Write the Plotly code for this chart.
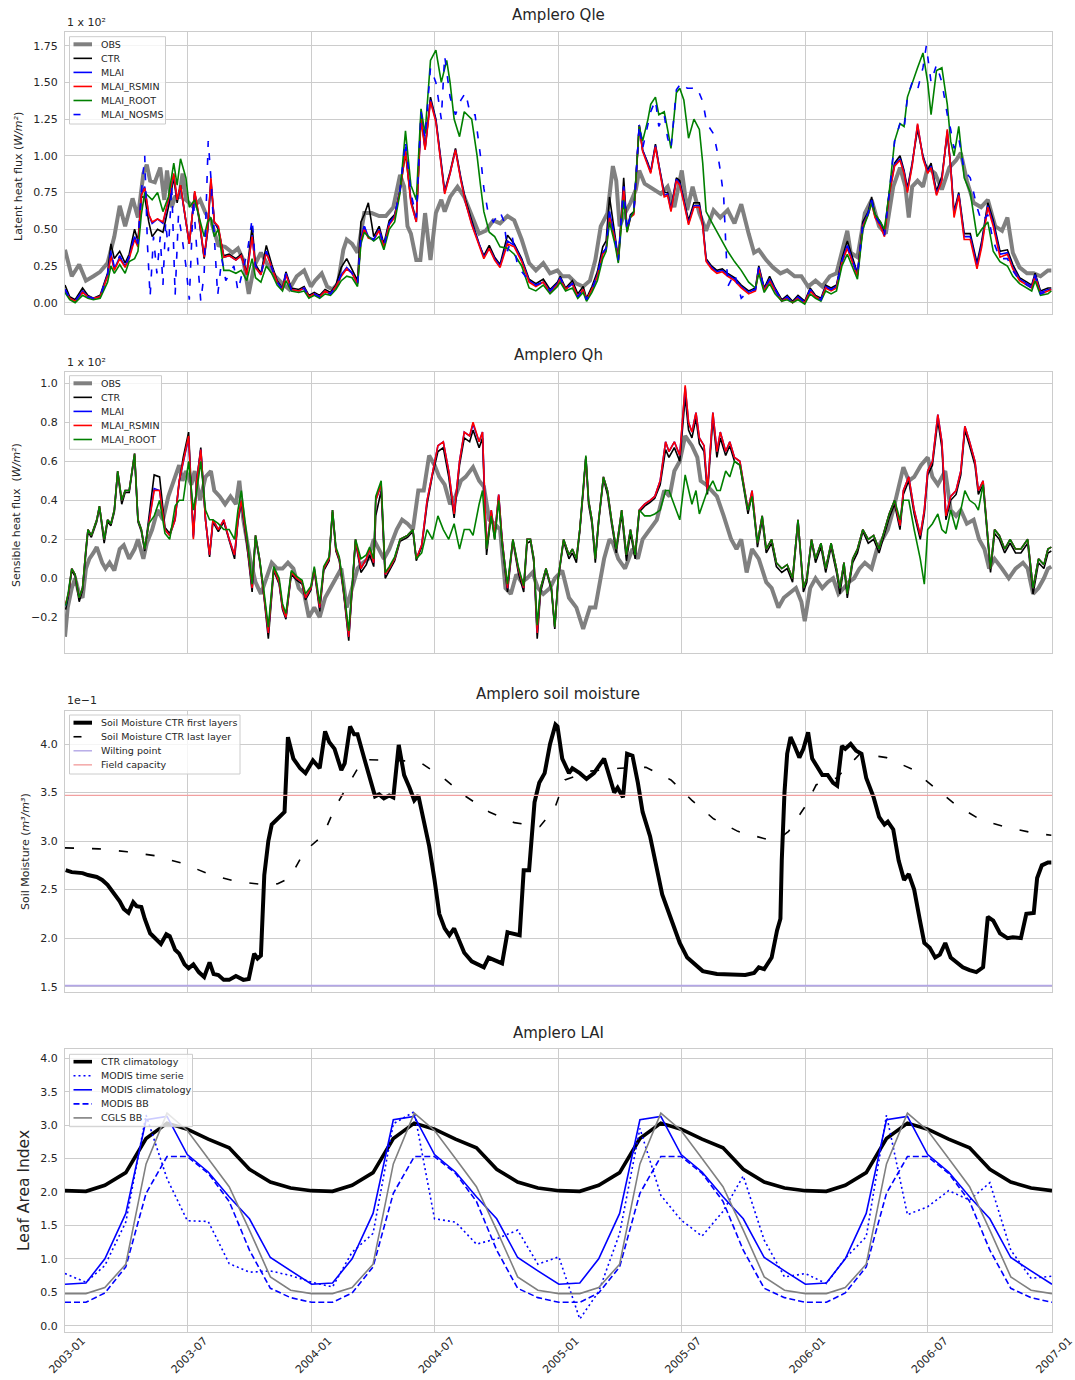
import pandas as pd
import plotly.graph_objects as go

# ---------------------------------------------------------------------------
# Amplero site: fluxes, soil moisture and LAI, 2003-2006
# Flux series are (day since 2003-01-01, W/m2); soil moisture in m3/m3.
# ---------------------------------------------------------------------------
START = "2003-01-01"
END = "2007-01-01"

QLE_OBS = [(0,36),(10,18),(21,26),(31,15),(42,18),(52,21),(63,27),(73,45),(81,66),(89,52),(100,71),(108,58),(116,88),(121,94),(126,83),(133,82),(141,92),(147,70),(151,90),(158,65),(163,72),(169,72),(174,88),(179,70),(190,65),(200,70),(208,61),(216,56),(227,39),(237,38),(248,34),(256,37),(264,29),(272,6),(280,25),(290,34),(301,25),(311,18),(322,13),(332,9),(343,18),(354,22),(364,11),(370,15),(380,20),(388,11),(396,9),(404,13),(412,36),(417,43),(425,40),(433,34),(443,61),(454,61),(465,59),(475,59),(486,65),(496,87),(502,79),(507,52),(512,47),(520,29),(526,29),(533,61),(541,29),(549,61),(557,70),(562,62),(570,72),(581,79),(591,72),(602,59),(613,47),(623,49),(634,56),(644,54),(655,59),(665,56),(676,43),(687,27),(697,22),(708,27),(718,20),(729,22),(736,18),(746,18),(757,13),(767,11),(777,15),(785,29),(793,52),(803,61),(811,93),(816,83),(821,52),(829,61),(837,68),(845,77),(850,90),(858,81),(871,77),(882,74),(892,79),(902,65),(913,90),(921,63),(929,79),(939,61),(949,49),(960,63),(970,58),(981,63),(991,54),(1001,67),(1012,47),(1020,34),(1027,36),(1038,29),(1048,24),(1059,20),(1069,22),(1080,18),(1090,18),(1100,11),(1111,15),(1121,11),(1132,18),(1142,20),(1153,40),(1158,49),(1163,34),(1173,31),(1184,61),(1194,70),(1205,52),(1215,47),(1226,79),(1236,92),(1244,79),(1249,58),(1254,79),(1262,83),(1270,79),(1277,92),(1288,88),(1298,77),(1309,92),(1319,97),(1326,102),(1335,83),(1345,68),(1356,65),(1366,70),(1377,52),(1387,49),(1395,58),(1403,34),(1413,24),(1424,20),(1434,20),(1444,18),(1455,22),(1460,22)]

QLE_CTR = [(0,12),(7,4),(15,2),(26,10),(34,5),(42,3),(52,5),(63,20),(68,40),(73,30),(81,35),(89,27),(95,33),(103,50),(108,42),(113,72),(118,72),(124,55),(129,45),(137,50),(145,48),(153,65),(161,85),(166,68),(171,80),(179,55),(184,40),(192,75),(198,58),(206,30),(211,48),(216,82),(221,55),(227,50),(235,32),(243,33),(253,30),(261,33),(269,20),(277,52),(282,26),(290,20),(298,39),(306,26),(314,15),(322,10),(327,21),(335,10),(346,9),(354,11),(361,5),(369,7),(377,5),(385,9),(393,7),(401,12),(409,24),(417,30),(425,22),(433,15),(438,55),(443,60),(449,68),(457,45),(465,52),(472,40),(480,56),(488,60),(496,77),(504,102),(512,70),(520,56),(527,128),(533,105),(541,140),(549,125),(557,95),(562,76),(570,89),(578,105),(586,85),(593,70),(602,56),(613,40),(620,32),(628,39),(636,31),(644,26),(655,46),(665,40),(676,30),(687,16),(697,13),(708,16),(718,9),(729,14),(733,18),(741,10),(751,15),(759,6),(767,11),(772,3),(780,11),(788,21),(796,38),(801,42),(806,72),(814,45),(819,30),(824,62),(827,85),(832,50),(837,60),(842,62),(850,121),(855,104),(863,95),(867,89),(874,108),(879,94),(887,75),(892,75),(897,64),(905,85),(910,83),(916,70),(923,56),(931,68),(939,68),(944,54),(949,30),(957,25),(965,22),(973,23),(981,20),(991,17),(1001,12),(1012,8),(1022,10),(1027,25),(1035,10),(1043,18),(1051,10),(1061,2),(1069,5),(1077,1),(1085,5),(1095,1),(1103,10),(1111,5),(1119,3),(1126,12),(1134,10),(1142,12),(1150,30),(1158,42),(1166,30),(1173,20),(1181,55),(1189,62),(1194,72),(1199,60),(1207,55),(1213,48),(1220,75),(1228,95),(1236,100),(1242,90),(1247,78),(1254,95),(1262,118),(1270,100),(1277,90),(1282,95),(1290,76),(1298,86),(1306,115),(1311,93),(1316,62),(1323,75),(1331,47),(1340,47),(1350,27),(1357,42),(1366,68),(1374,56),(1384,35),(1395,36),(1403,26),(1413,17),(1424,14),(1431,12),(1436,20),(1444,8),(1455,10),(1460,10)]

QLE_MLAI = [(0,9),(7,3),(15,1),(26,8),(34,4),(42,3),(52,4),(63,19),(68,34),(73,23),(81,31),(89,25),(95,31),(103,45),(108,39),(113,74),(118,79),(124,60),(129,54),(137,57),(145,54),(153,69),(161,87),(166,70),(171,79),(179,54),(184,40),(192,75),(198,59),(206,31),(211,49),(216,84),(221,55),(227,51),(235,31),(243,32),(253,29),(261,32),(269,19),(277,46),(282,24),(290,19),(298,35),(306,24),(314,14),(322,9),(327,20),(335,9),(346,8),(354,10),(361,4),(369,6),(377,4),(385,8),(393,6),(401,11),(409,19),(417,24),(425,20),(433,13),(438,44),(443,52),(449,45),(457,43),(465,50),(472,38),(480,54),(488,59),(496,77),(504,106),(512,69),(520,55),(527,127),(533,105),(541,138),(549,124),(557,94),(562,75),(570,88),(578,104),(586,84),(593,68),(602,54),(613,39),(620,31),(628,37),(636,30),(644,25),(655,42),(665,39),(676,29),(687,15),(697,12),(708,14),(718,8),(729,13),(733,17),(741,9),(751,13),(759,4),(767,9),(772,2),(780,9),(788,19),(796,34),(801,37),(806,62),(814,44),(819,29),(824,59),(827,79),(832,49),(837,59),(842,61),(850,121),(855,104),(863,94),(867,89),(874,107),(879,93),(887,73),(892,74),(897,63),(905,84),(910,81),(916,69),(923,54),(931,66),(939,66),(944,53),(949,29),(957,24),(965,21),(973,22),(981,19),(991,16),(1001,11),(1012,7),(1022,9),(1027,24),(1035,9),(1043,16),(1051,9),(1061,1),(1069,4),(1077,0),(1085,4),(1095,0),(1103,9),(1111,4),(1119,2),(1126,11),(1134,9),(1142,11),(1150,28),(1158,39),(1166,28),(1173,19),(1181,53),(1189,61),(1194,70),(1199,59),(1207,53),(1213,46),(1220,74),(1228,94),(1236,98),(1242,89),(1247,76),(1254,94),(1262,121),(1270,99),(1277,89),(1282,93),(1290,74),(1298,84),(1306,117),(1311,93),(1316,60),(1323,74),(1331,45),(1340,45),(1350,25),(1357,40),(1366,66),(1374,54),(1384,33),(1395,34),(1403,24),(1413,16),(1424,13),(1431,11),(1436,19),(1444,7),(1455,9),(1460,9)]

QLE_RSMIN = [(0,8),(7,3),(15,1),(26,7),(34,4),(42,3),(52,4),(63,18),(68,32),(73,22),(81,30),(89,24),(95,30),(103,43),(108,38),(113,73),(118,78),(124,60),(129,55),(137,57),(145,55),(153,70),(161,88),(166,70),(171,80),(179,55),(184,40),(192,76),(198,60),(206,31),(211,50),(216,85),(221,55),(227,52),(235,31),(243,32),(253,29),(261,32),(269,19),(277,45),(282,24),(290,19),(298,34),(306,24),(314,14),(322,9),(327,19),(335,9),(346,8),(354,10),(361,4),(369,6),(377,4),(385,8),(393,6),(401,11),(409,18),(417,23),(425,20),(433,13),(438,42),(443,50),(449,44),(457,43),(465,49),(472,38),(480,53),(488,58),(496,76),(504,103),(512,68),(520,55),(527,125),(533,104),(541,137),(549,123),(557,93),(562,74),(570,88),(578,104),(586,83),(593,68),(602,53),(613,38),(620,30),(628,37),(636,29),(644,24),(655,40),(665,38),(676,28),(687,14),(697,11),(708,14),(718,7),(729,12),(733,16),(741,9),(751,13),(759,4),(767,9),(772,2),(780,9),(788,18),(796,33),(801,36),(806,58),(814,43),(819,28),(824,58),(827,78),(832,48),(837,58),(842,60),(850,120),(855,103),(863,93),(867,88),(874,106),(879,92),(887,72),(892,73),(897,62),(905,83),(910,80),(916,68),(923,53),(931,65),(939,65),(944,52),(949,28),(957,23),(965,20),(973,21),(981,18),(991,15),(1001,10),(1012,6),(1022,8),(1027,23),(1035,8),(1043,15),(1051,8),(1061,1),(1069,3),(1077,0),(1085,3),(1095,0),(1103,8),(1111,4),(1119,2),(1126,10),(1134,8),(1142,10),(1150,27),(1158,37),(1166,27),(1173,18),(1181,52),(1189,60),(1194,68),(1199,58),(1207,52),(1213,45),(1220,73),(1228,93),(1236,97),(1242,88),(1247,75),(1254,93),(1262,122),(1270,98),(1277,88),(1282,92),(1290,73),(1298,83),(1306,118),(1311,92),(1316,58),(1323,73),(1331,43),(1340,43),(1350,23),(1357,38),(1366,65),(1374,52),(1384,31),(1395,33),(1403,23),(1413,15),(1424,12),(1431,10),(1436,18),(1444,6),(1455,8),(1460,9)]

QLE_ROOT = [(0,7),(7,2),(15,0),(26,5),(34,3),(42,2),(52,3),(63,14),(68,25),(73,20),(81,26),(89,20),(95,28),(103,30),(108,35),(113,60),(118,75),(124,72),(129,70),(137,75),(145,62),(153,72),(161,95),(166,80),(171,98),(179,85),(184,65),(192,70),(198,60),(206,45),(211,55),(216,58),(221,45),(227,50),(235,22),(243,22),(253,20),(261,22),(269,15),(277,30),(282,17),(290,14),(298,25),(306,20),(314,12),(322,8),(327,15),(335,8),(346,7),(354,8),(361,3),(369,5),(377,3),(385,6),(393,5),(401,9),(409,15),(417,18),(425,17),(433,11),(438,40),(443,48),(449,45),(457,42),(465,45),(472,36),(480,50),(488,55),(496,75),(504,117),(512,80),(520,70),(527,132),(533,115),(541,165),(549,172),(557,150),(565,165),(570,150),(576,125),(584,113),(591,130),(602,125),(610,100),(615,80),(620,62),(628,48),(636,45),(644,38),(655,37),(665,33),(676,25),(687,10),(697,8),(708,12),(718,6),(729,11),(733,14),(741,8),(751,10),(759,3),(767,7),(772,1),(780,7),(788,15),(796,30),(801,35),(806,55),(814,40),(819,27),(824,55),(827,70),(832,48),(837,58),(842,62),(850,120),(855,110),(863,125),(867,135),(874,140),(879,128),(887,130),(892,118),(897,105),(905,143),(910,146),(916,138),(923,112),(931,125),(939,118),(944,95),(949,62),(957,55),(965,48),(973,42),(981,35),(991,28),(1001,22),(1012,14),(1022,10),(1027,20),(1035,7),(1043,13),(1051,6),(1061,1),(1069,2),(1077,0),(1085,2),(1095,-1),(1103,6),(1111,3),(1119,1),(1126,8),(1134,6),(1142,8),(1150,25),(1158,33),(1166,24),(1173,16),(1181,50),(1189,60),(1194,68),(1199,60),(1207,55),(1213,50),(1220,75),(1228,110),(1236,122),(1242,120),(1247,140),(1254,150),(1262,160),(1270,170),(1277,150),(1282,128),(1290,158),(1298,160),(1306,135),(1311,110),(1316,100),(1323,120),(1331,85),(1340,75),(1350,45),(1357,50),(1366,55),(1374,35),(1384,28),(1395,25),(1403,18),(1413,13),(1424,10),(1431,8),(1436,15),(1444,5),(1455,6),(1460,8)]

QLE_NOSMS = [(0,9),(7,3),(15,1),(26,8),(34,4),(42,3),(52,4),(63,19),(68,36),(73,24),(81,32),(89,25),(95,31),(103,46),(108,40),(113,75),(118,100),(122,40),(126,4),(131,45),(136,20),(141,45),(145,12),(149,55),(153,35),(158,80),(163,5),(168,60),(173,45),(179,25),(184,2),(190,70),(196,30),(201,1),(206,20),(212,110),(216,85),(221,40),(226,5),(232,30),(238,15),(244,20),(250,25),(256,8),(262,20),(270,35),(277,57),(282,25),(290,19),(298,35),(306,24),(314,14),(322,9),(327,20),(335,9),(346,8),(354,10),(361,4),(369,6),(377,4),(385,8),(393,6),(401,11),(409,19),(417,24),(425,20),(433,13),(438,44),(443,52),(449,45),(457,43),(465,50),(472,38),(480,54),(488,59),(496,77),(504,110),(512,75),(520,58),(527,130),(533,112),(541,160),(549,150),(557,125),(562,168),(570,140),(578,128),(586,138),(593,143),(600,128),(607,128),(615,100),(620,78),(626,62),(634,55),(644,62),(650,55),(655,35),(662,45),(670,25),(678,20),(687,15),(697,12),(708,14),(718,8),(729,13),(733,17),(741,9),(751,13),(759,4),(767,9),(772,2),(780,9),(788,19),(796,34),(801,37),(806,62),(814,44),(819,29),(824,59),(827,79),(832,49),(837,59),(842,61),(850,121),(855,105),(863,122),(867,130),(874,138),(879,120),(887,128),(892,112),(897,105),(905,145),(913,150),(921,146),(928,146),(935,147),(944,137),(950,122),(960,115),(965,104),(970,90),(975,72),(981,11),(991,20),(1001,3),(1006,5),(1012,8),(1022,9),(1027,24),(1035,9),(1043,16),(1051,9),(1061,1),(1069,4),(1077,0),(1085,4),(1095,0),(1103,9),(1111,4),(1119,2),(1126,11),(1134,9),(1142,11),(1150,28),(1158,39),(1166,28),(1173,19),(1181,53),(1189,61),(1194,70),(1199,59),(1207,53),(1213,46),(1220,74),(1228,110),(1236,122),(1242,118),(1247,140),(1254,150),(1262,145),(1270,160),(1275,175),(1282,150),(1290,162),(1298,150),(1306,128),(1311,118),(1316,105),(1323,112),(1331,90),(1340,85),(1350,65),(1357,55),(1366,60),(1374,42),(1384,30),(1395,30),(1403,22),(1413,15),(1424,12),(1431,10),(1436,18),(1444,6),(1455,8),(1460,8)]

QH_OBS = [(0,-30),(4,-15),(10,-5),(15,0),(21,-8),(26,-10),(31,5),(36,10),(42,13),(47,16),(55,8),(60,5),(66,8),(73,4),(81,15),(87,17),(95,10),(103,15),(108,20),(116,10),(121,18),(129,25),(137,35),(145,30),(153,42),(161,50),(169,58),(174,50),(179,55),(187,48),(192,55),(200,40),(208,52),(216,55),(221,45),(229,42),(237,38),(245,42),(253,38),(258,50),(264,30),(269,20),(274,10),(282,-2),(290,-8),(298,0),(306,8),(314,5),(322,5),(330,8),(338,5),(346,-5),(354,-8),(361,-20),(369,-15),(377,-20),(385,-10),(393,-5),(401,0),(409,5),(417,-15),(425,-5),(433,5),(441,8),(449,10),(457,20),(465,15),(472,10),(480,15),(491,25),(499,30),(507,28),(515,25),(523,45),(531,45),(539,63),(547,58),(554,52),(562,48),(570,38),(578,42),(586,50),(593,52),(604,57),(613,50),(620,47),(628,30),(636,28),(644,25),(652,-5),(660,-8),(668,2),(676,-2),(684,0),(692,3),(700,-5),(708,-8),(718,-5),(725,0),(736,4),(746,-10),(757,-15),(767,-26),(777,-15),(785,-15),(790,-5),(798,10),(806,20),(811,18),(819,10),(829,5),(840,15),(848,10),(855,20),(866,25),(876,30),(887,45),(895,42),(902,55),(910,60),(918,73),(928,68),(936,62),(941,50),(949,48),(957,45),(965,42),(975,32),(986,20),(994,15),(1001,20),(1009,3),(1017,15),(1027,10),(1038,-2),(1046,-5),(1056,-15),(1064,-10),(1074,-7),(1082,-5),(1090,-12),(1095,-22),(1103,-5),(1111,0),(1121,-5),(1129,-2),(1137,0),(1145,-8),(1153,-5),(1160,-2),(1168,0),(1176,5),(1184,8),(1194,5),(1202,15),(1210,20),(1218,25),(1226,35),(1234,47),(1241,57),(1249,50),(1257,52),(1267,58),(1277,62),(1284,52),(1292,48),(1303,55),(1311,35),(1319,32),(1326,35),(1335,28),(1345,30),(1353,20),(1361,15),(1368,5),(1376,10),(1387,5),(1397,0),(1407,5),(1418,8),(1425,5),(1433,-8),(1441,-5),(1449,0),(1455,5),(1460,6)]

QH_CTR = [(1,-16),(5,-9),(10,4),(15,1),(21,-12),(26,-6),(31,13),(34,24),(39,21),(47,29),(51,36),(58,18),(63,29),(68,27),(73,34),(78,54),(84,38),(89,44),(95,44),(103,63),(108,29),(113,24),(118,14),(124,30),(132,53),(140,52),(148,26),(155,23),(163,31),(169,49),(175,62),(183,75),(190,22),(195,50),(201,67),(208,30),(214,11),(219,29),(227,24),(235,29),(243,19),(251,10),(256,29),(261,39),(269,18),(277,-7),(282,21),(288,9),(295,-11),(301,-31),(309,4),(317,-3),(322,-16),(327,-21),(335,2),(343,-1),(351,-3),(356,-11),(364,-6),(369,4),(377,-17),(383,4),(391,9),(396,34),(401,14),(406,9),(412,-6),(420,-32),(425,-6),(430,19),(438,3),(446,7),(451,12),(457,6),(460,32),(468,45),(474,0),(480,4),(488,9),(496,19),(507,21),(515,24),(520,9),(528,16),(536,38),(544,53),(552,65),(560,67),(568,52),(576,31),(584,58),(591,72),(599,70),(604,76),(613,67),(618,72),(624,12),(631,33),(636,20),(642,42),(647,18),(655,-7),(663,19),(671,3),(679,-7),(684,18),(689,19),(694,8),(699,-31),(704,-7),(712,4),(720,-6),(725,-26),(730,-1),(738,19),(746,10),(751,13),(757,8),(762,24),(767,44),(771,62),(775,38),(780,28),(785,8),(790,29),(797,51),(803,43),(809,28),(816,13),(824,33),(831,9),(837,23),(844,10),(850,34),(858,37),(866,39),(873,41),(881,48),(889,66),(894,62),(902,67),(910,60),(918,93),(923,76),(928,72),(934,82),(939,69),(946,65),(951,43),(959,82),(965,62),(970,72),(978,63),(984,68),(991,60),(999,58),(1006,43),(1011,33),(1017,43),(1025,16),(1032,30),(1038,13),(1046,18),(1053,6),(1061,3),(1069,5),(1077,-2),(1085,29),(1093,-7),(1098,-2),(1105,19),(1111,8),(1119,16),(1126,3),(1134,16),(1142,3),(1147,-8),(1153,6),(1158,-10),(1166,8),(1173,13),(1181,24),(1189,18),(1197,20),(1205,13),(1213,23),(1220,31),(1228,38),(1236,25),(1241,43),(1249,50),(1257,33),(1266,20),(1272,33),(1277,53),(1284,58),(1292,81),(1298,67),(1304,30),(1311,40),(1319,43),(1326,53),(1332,76),(1339,68),(1347,58),(1352,43),(1359,48),(1365,23),(1370,3),(1376,23),(1383,20),(1391,13),(1399,18),(1407,13),(1415,13),(1425,18),(1433,-8),(1441,8),(1449,5),(1455,13),(1460,14)]

QH_MLAI = [(1,-14),(5,-8),(10,5),(15,2),(21,-10),(26,-5),(31,15),(34,25),(39,22),(47,30),(51,37),(58,20),(63,30),(68,28),(73,35),(78,55),(84,40),(89,45),(95,45),(103,64),(108,30),(113,25),(118,15),(124,28),(132,46),(140,45),(148,25),(155,22),(163,30),(169,50),(175,60),(183,72),(190,21),(195,50),(201,66),(208,30),(214,12),(219,30),(227,25),(235,30),(243,20),(251,12),(256,30),(261,40),(269,20),(277,-5),(282,22),(288,10),(295,-10),(301,-28),(309,5),(317,-2),(322,-15),(327,-20),(335,3),(343,0),(351,-2),(356,-10),(364,-5),(369,5),(377,-15),(383,5),(391,10),(396,35),(401,15),(406,10),(412,-5),(420,-30),(425,-5),(430,20),(438,5),(446,10),(451,15),(457,8),(460,40),(468,48),(474,2),(480,5),(488,10),(496,20),(507,22),(515,25),(520,10),(528,17),(536,40),(544,55),(552,68),(560,70),(568,55),(576,33),(584,60),(591,75),(599,73),(604,79),(613,70),(618,75),(624,15),(631,35),(636,22),(642,43),(647,20),(655,-5),(663,20),(671,5),(679,-5),(684,20),(689,20),(694,10),(699,-28),(704,-5),(712,5),(720,-5),(725,-25),(730,0),(738,20),(746,12),(751,15),(757,10),(762,25),(767,45),(771,62),(775,40),(780,30),(785,10),(790,30),(797,52),(803,45),(809,30),(816,15),(824,35),(831,12),(837,25),(844,12),(850,35),(858,38),(866,40),(873,42),(881,50),(889,70),(894,65),(902,70),(910,63),(918,98),(923,80),(928,75),(934,85),(939,72),(946,68),(951,45),(959,85),(965,65),(970,75),(978,65),(984,70),(991,62),(999,60),(1006,45),(1011,35),(1017,45),(1025,18),(1032,32),(1038,15),(1046,20),(1053,8),(1061,5),(1069,7),(1077,0),(1085,30),(1093,-5),(1098,0),(1105,20),(1111,10),(1119,18),(1126,5),(1134,18),(1142,5),(1147,-5),(1153,8),(1158,-8),(1166,10),(1173,15),(1181,25),(1189,20),(1197,22),(1205,15),(1213,25),(1220,33),(1228,40),(1236,27),(1241,45),(1249,52),(1257,35),(1266,22),(1272,35),(1277,55),(1284,60),(1292,84),(1298,70),(1304,32),(1311,42),(1319,45),(1326,55),(1332,78),(1339,70),(1347,60),(1352,45),(1359,50),(1365,25),(1370,5),(1376,25),(1383,22),(1391,15),(1399,20),(1407,15),(1415,15),(1425,20),(1433,-5),(1441,10),(1449,7),(1455,15),(1460,16)]

QH_RSMIN = [(1,-13),(5,-8),(10,5),(15,2),(21,-10),(26,-5),(31,15),(34,25),(39,22),(47,30),(51,37),(58,20),(63,30),(68,28),(73,35),(78,55),(84,40),(89,45),(95,45),(103,64),(108,30),(113,25),(118,15),(124,28),(132,45),(140,45),(148,25),(155,22),(163,30),(169,50),(175,60),(183,73),(190,20),(195,50),(201,66),(208,30),(214,12),(219,30),(227,25),(235,30),(243,20),(251,12),(256,30),(261,40),(269,20),(277,-5),(282,22),(288,10),(295,-10),(301,-28),(309,5),(317,-2),(322,-15),(327,-20),(335,3),(343,0),(351,-2),(356,-10),(364,-5),(369,5),(377,-15),(383,5),(391,10),(396,35),(401,15),(406,10),(412,-5),(420,-30),(425,-5),(430,20),(438,5),(446,10),(451,15),(457,8),(460,40),(468,48),(474,2),(480,5),(488,10),(496,20),(507,22),(515,25),(520,10),(528,17),(536,40),(544,55),(552,68),(560,70),(568,55),(576,33),(584,60),(591,75),(599,73),(604,80),(613,70),(618,75),(624,15),(631,35),(636,22),(642,43),(647,20),(655,-5),(663,20),(671,5),(679,-5),(684,20),(689,20),(694,10),(699,-28),(704,-5),(712,5),(720,-5),(725,-25),(730,0),(738,20),(746,12),(751,15),(757,10),(762,25),(767,45),(771,62),(775,40),(780,30),(785,10),(790,30),(797,52),(803,45),(809,30),(816,15),(824,35),(831,12),(837,25),(844,12),(850,35),(858,38),(866,40),(873,42),(881,50),(889,70),(894,65),(902,70),(910,63),(918,99),(923,80),(928,75),(934,85),(939,72),(946,68),(951,45),(959,85),(965,65),(970,75),(978,65),(984,70),(991,62),(999,60),(1006,45),(1011,35),(1017,45),(1025,18),(1032,32),(1038,15),(1046,20),(1053,8),(1061,5),(1069,7),(1077,0),(1085,30),(1093,-5),(1098,0),(1105,20),(1111,10),(1119,18),(1126,5),(1134,18),(1142,5),(1147,-5),(1153,8),(1158,-8),(1166,10),(1173,15),(1181,25),(1189,20),(1197,22),(1205,15),(1213,25),(1220,33),(1228,40),(1236,27),(1241,45),(1249,52),(1257,35),(1266,22),(1272,35),(1277,55),(1284,60),(1292,84),(1298,70),(1304,32),(1311,42),(1319,45),(1326,55),(1332,78),(1339,70),(1347,60),(1352,45),(1359,50),(1365,25),(1370,5),(1376,25),(1383,22),(1391,15),(1399,20),(1407,15),(1415,15),(1425,20),(1433,-5),(1441,10),(1449,7),(1455,15),(1460,16)]

QH_ROOT = [(1,-14),(5,-7),(10,5),(15,2),(21,-10),(26,-5),(31,15),(34,25),(39,22),(47,30),(51,37),(58,20),(63,30),(68,28),(73,35),(78,55),(84,40),(89,45),(95,45),(103,64),(108,30),(113,25),(118,15),(124,28),(132,32),(140,40),(148,23),(155,20),(163,37),(169,40),(175,40),(183,60),(190,35),(195,45),(201,60),(208,35),(214,30),(219,30),(227,28),(235,25),(243,25),(251,20),(256,35),(261,45),(269,22),(277,-3),(282,22),(288,10),(295,-8),(301,-25),(309,6),(317,0),(322,-13),(327,-18),(335,4),(343,1),(351,-1),(356,-8),(364,-4),(369,6),(377,-13),(383,6),(391,11),(396,35),(401,16),(406,11),(412,-4),(420,-27),(425,-4),(430,20),(438,10),(446,12),(451,16),(457,10),(460,42),(468,50),(474,3),(480,6),(488,11),(496,20),(507,22),(515,25),(520,10),(528,13),(536,25),(544,20),(552,32),(560,25),(568,20),(576,28),(584,15),(591,25),(599,25),(604,22),(613,38),(618,45),(624,15),(631,32),(636,20),(642,40),(647,18),(655,-3),(663,20),(671,6),(679,-4),(684,20),(689,20),(694,10),(699,-24),(704,-5),(712,5),(720,-5),(725,-25),(730,0),(738,20),(746,12),(751,15),(757,10),(762,25),(767,45),(771,63),(775,40),(780,30),(785,10),(790,30),(797,52),(803,45),(809,30),(816,15),(824,35),(831,12),(837,25),(844,12),(850,35),(858,32),(866,32),(873,33),(881,35),(889,45),(894,45),(902,38),(910,30),(918,53),(923,45),(928,38),(934,45),(939,33),(946,40),(951,45),(959,50),(965,45),(970,45),(978,55),(984,52),(991,60),(999,58),(1006,45),(1011,35),(1017,42),(1025,18),(1032,32),(1038,15),(1046,20),(1053,8),(1061,5),(1069,7),(1077,0),(1085,30),(1093,-5),(1098,0),(1105,20),(1111,10),(1119,18),(1126,5),(1134,18),(1142,5),(1147,-5),(1153,8),(1158,-8),(1166,10),(1173,15),(1181,25),(1189,20),(1197,22),(1205,15),(1213,25),(1220,33),(1228,40),(1236,30),(1241,40),(1249,40),(1257,25),(1266,10),(1272,-3),(1277,25),(1284,28),(1292,33),(1298,25),(1304,23),(1311,35),(1319,25),(1326,35),(1332,45),(1339,40),(1347,38),(1352,35),(1359,48),(1365,25),(1370,5),(1376,25),(1383,22),(1391,15),(1399,20),(1407,15),(1415,15),(1425,20),(1433,-5),(1441,10),(1449,7),(1455,15),(1460,16)]

SM_TOP = [(1,.270),(10,.268),(26,.267),(34,.265),(47,.263),(55,.260),(63,.255),(73,.245),(81,.238),(87,.230),(94,.226),(101,.237),(106,.233),(113,.232),(118,.220),(126,.205),(134,.199),(142,.194),(150,.204),(155,.202),(163,.188),(169,.184),(177,.173),(183,.169),(190,.173),(198,.165),(206,.160),(214,.175),(220,.163),(227,.162),(235,.157),(243,.157),(253,.161),(264,.157),(272,.158),(280,.184),(285,.179),(290,.182),(295,.265),(301,.300),(306,.317),(317,.325),(325,.330),(330,.407),(338,.385),(348,.375),(356,.370),(367,.383),(377,.375),(385,.413),(391,.402),(399,.395),(409,.373),(414,.380),(422,.418),(428,.410),(433,.410),(443,.385),(451,.365),(459,.346),(465,.348),(472,.344),(480,.347),(486,.345),(494,.399),(502,.368),(510,.355),(517,.342),(523,.347),(531,.320),(539,.295),(547,.260),(554,.225),(562,.210),(569,.203),(576,.210),(584,.197),(591,.185),(602,.176),(613,.172),(620,.170),(627,.180),(636,.177),(647,.174),(655,.206),(665,.204),(673,.203),(679,.270),(687,.270),(695,.340),(702,.360),(710,.370),(718,.400),(726,.420),(729,.418),(736,.385),(746,.370),(751,.375),(762,.370),(772,.364),(783,.370),(798,.385),(806,.365),(813,.350),(818,.355),(826,.345),(832,.390),(840,.388),(848,.360),(855,.330),(866,.305),(876,.270),(884,.245),(897,.220),(910,.195),(921,.180),(934,.172),(944,.166),(965,.163),(986,.162),(1007,.162),(1020,.164),(1027,.170),(1035,.168),(1046,.180),(1054,.208),(1059,.220),(1061,.280),(1065,.350),(1069,.390),(1074,.407),(1080,.398),(1087,.386),(1093,.395),(1100,.412),(1106,.385),(1114,.375),(1121,.368),(1129,.368),(1137,.360),(1143,.357),(1150,.398),(1155,.395),(1163,.400),(1171,.393),(1179,.390),(1186,.365),(1197,.345),(1205,.325),(1213,.317),(1218,.320),(1226,.312),(1234,.280),(1242,.260),(1249,.266),(1257,.250),(1265,.220),(1272,.195),(1280,.190),(1288,.180),(1295,.183),(1303,.195),(1311,.180),(1321,.175),(1329,.170),(1339,.167),(1349,.165),(1359,.170),(1366,.222),(1374,.218),(1384,.205),(1395,.200),(1403,.201),(1415,.200),(1423,.225),(1434,.226),(1439,.262),(1446,.275),(1455,.278),(1460,.278)]

SM_BOTTOM = [(0,.293),(50,.292),(92,.289),(133,.285),(174,.277),(213,.266),(255,.258),(297,.255),(315,.256),(333,.262),(354,.289),(382,.306),(400,.335),(424,.363),(441,.384),(490,.383),(524,.382),(562,.364),(591,.347),(628,.330),(665,.319),(703,.315),(725,.334),(740,.363),(776,.372),(821,.375),(860,.376),(897,.363),(928,.342),(960,.323),(996,.310),(1038,.302),(1058,.303),(1071,.310),(1095,.335),(1112,.358),(1142,.365),(1177,.390),(1216,.386),(1254,.374),(1287,.355),(1319,.337),(1355,.322),(1395,.314),(1436,.308),(1460,.306)]

WILTING_POINT = 0.151
FIELD_CAPACITY = 0.347

# Monthly LAI, first of each month from 2003-01 to 2007-01
LAI_CTR_CLIM = [2.02,2.01,2.10,2.29,2.80,3.03,2.94,2.79,2.66,2.34,2.15,2.06,
                2.02,2.01,2.10,2.29,2.80,3.03,2.94,2.79,2.66,2.34,2.15,2.06,
                2.02,2.01,2.10,2.29,2.80,3.03,2.94,2.79,2.66,2.34,2.15,2.06,
                2.02,2.01,2.10,2.29,2.80,3.03,2.94,2.79,2.66,2.34,2.15,2.06,
                2.02]
LAI_MODIS_TS = [0.78,0.65,0.90,1.55,3.15,2.20,1.57,1.56,0.93,0.80,0.82,0.75,
                0.65,0.58,1.10,1.38,3.02,3.20,1.60,1.55,1.22,1.30,1.43,0.92,
                1.03,0.10,0.51,1.38,2.95,1.95,1.58,1.34,1.71,2.24,1.28,0.73,
                0.78,0.63,1.01,1.33,3.15,1.66,1.78,2.02,1.88,2.14,1.13,0.71,
                0.74]
LAI_MODIS_CLIM = [0.62,0.64,1.00,1.68,3.08,3.13,2.56,2.30,1.93,1.60,1.02,0.82,
                  0.62,0.64,1.00,1.68,3.08,3.13,2.56,2.30,1.93,1.60,1.02,0.82,
                  0.62,0.64,1.00,1.68,3.08,3.13,2.56,2.30,1.93,1.60,1.02,0.82,
                  0.62,0.64,1.00,1.68,3.08,3.13,2.56,2.30,1.93,1.60,1.02,0.82,
                  0.62]
LAI_MODIS_BB = [0.35,0.35,0.49,0.88,1.98,2.53,2.53,2.28,1.86,1.13,0.56,0.42,
                0.35,0.35,0.49,0.88,1.98,2.53,2.53,2.28,1.86,1.13,0.56,0.42,
                0.35,0.35,0.49,0.88,1.98,2.53,2.53,2.28,1.86,1.13,0.56,0.42,
                0.35,0.35,0.49,0.88,1.98,2.53,2.53,2.28,1.86,1.13,0.56,0.42,
                0.35]
LAI_CGLS_BB = [0.48,0.48,0.57,0.92,2.42,3.18,2.92,2.50,2.08,1.43,0.73,0.53,
               0.48,0.48,0.57,0.92,2.42,3.18,2.92,2.50,2.08,1.43,0.73,0.53,
               0.48,0.48,0.57,0.92,2.42,3.18,2.92,2.50,2.08,1.43,0.73,0.53,
               0.48,0.48,0.57,0.92,2.42,3.18,2.92,2.50,2.08,1.43,0.73,0.53,
               0.48]

QLE_TICKS = [0, 25, 50, 75, 100, 125, 150, 175]
QH_TICKS = [-20, 0, 20, 40, 60, 80, 100]
SM_TICKS = [0.15, 0.20, 0.25, 0.30, 0.35, 0.40]
LAI_TICKS = [0.0, 0.5, 1.0, 1.5, 2.0, 2.5, 3.0, 3.5, 4.0]
DATE_TICKS = ["2003-01-01", "2003-07-01", "2004-01-01", "2004-07-01", "2005-01-01",
              "2005-07-01", "2006-01-01", "2006-07-01", "2007-01-01"]

# ---------------------------------------------------------------------------
FONT = "DejaVu Sans"
INK = "#262626"
GRID = "#cccccc"
W, H = 1075, 1380
ML, MR, MT, MB = 65, 23, 32, 48
PW, PH = W - ML - MR, H - MT - MB
PANELS = [(32, 314), (372, 653), (711, 992), (1049, 1332)]


def px(x):
    return (x - ML) / PW


def py(y):
    return (H - MB - y) / PH


def series(pairs):
    days, vals = zip(*pairs)
    x = pd.Timestamp(START) + pd.to_timedelta(list(days), unit="D")
    return list(x), list(vals)


def minus(s):
    return s.replace("-", "\u2212")


fig = go.Figure()


def add_line(row, pairs, color, width, dash=None, name=None):
    x, y = series(pairs)
    sfx = "" if row == 1 else str(row)
    fig.add_trace(go.Scatter(x=x, y=y, mode="lines", name=name, showlegend=False,
                             line=dict(color=color, width=width, dash=dash),
                             xaxis="x" + sfx, yaxis="y" + sfx))


# Latent heat flux
add_line(1, QLE_OBS, "#808080", 4, name="OBS")
add_line(1, QLE_CTR, "black", 1.6, name="CTR")
add_line(1, QLE_MLAI, "blue", 1.6, name="MLAI")
add_line(1, QLE_RSMIN, "red", 1.6, name="MLAI_RSMIN")
add_line(1, QLE_ROOT, "green", 1.6, name="MLAI_ROOT")
add_line(1, QLE_NOSMS, "blue", 1.6, dash="7px,11px", name="MLAI_NOSMS")

# Sensible heat flux
add_line(2, QH_OBS, "#808080", 4, name="OBS")
add_line(2, QH_CTR, "black", 1.6, name="CTR")
add_line(2, QH_MLAI, "blue", 1.6, name="MLAI")
add_line(2, QH_RSMIN, "red", 1.6, name="MLAI_RSMIN")
add_line(2, QH_ROOT, "green", 1.6, name="MLAI_ROOT")

# Soil moisture
add_line(3, SM_TOP, "black", 4, name="Soil Moisture CTR first layers")
add_line(3, SM_BOTTOM, "black", 1.6, dash="9px,18px", name="Soil Moisture CTR last layer")
fig.add_trace(go.Scatter(x=[START, END], y=[WILTING_POINT] * 2, mode="lines", showlegend=False,
                         name="Wilting point", line=dict(color="#b3a6e6", width=1.8),
                         xaxis="x3", yaxis="y3"))
fig.add_trace(go.Scatter(x=[START, END], y=[FIELD_CAPACITY] * 2, mode="lines", showlegend=False,
                         name="Field capacity", line=dict(color="#f2a0a0", width=1.2),
                         xaxis="x3", yaxis="y3"))

# LAI
months = list(pd.date_range(START, END, freq="MS"))
lai_specs = [
    (LAI_CTR_CLIM, "black", 3.6, None, "CTR climatology"),
    (LAI_MODIS_TS, "blue", 1.6, "2px,3px", "MODIS time serie"),
    (LAI_MODIS_CLIM, "blue", 1.6, None, "MODIS climatology"),
    (LAI_MODIS_BB, "blue", 1.6, "6px,3px", "MODIS BB"),
    (LAI_CGLS_BB, "#808080", 1.6, None, "CGLS BB"),
]
for vals, color, width, dash, name in lai_specs:
    fig.add_trace(go.Scatter(x=months, y=vals, mode="lines", name=name, showlegend=False,
                             line=dict(color=color, width=width, dash=dash),
                             xaxis="x4", yaxis="y4"))

# ---------------------------------------------------------------------------
# Axes
tick_font = dict(family=FONT, size=11, color=INK)
yspecs = [
    dict(range=[-7.7, 184.3], tickvals=QLE_TICKS, ticktext=[f"{v / 100:.2f}" for v in QLE_TICKS]),
    dict(range=[-38.3, 105.8], tickvals=QH_TICKS, ticktext=[minus(f"{v / 100:.1f}") for v in QH_TICKS]),
    dict(range=[0.1445, 0.434], tickvals=SM_TICKS, ticktext=[f"{v * 10:.1f}" for v in SM_TICKS]),
    dict(range=[-0.094, 4.139], tickvals=LAI_TICKS, ticktext=[f"{v:.1f}" for v in LAI_TICKS]),
]
axes = {}
for i, ((top, bot), ys) in enumerate(zip(PANELS, yspecs), start=1):
    sfx = "" if i == 1 else str(i)
    axes["xaxis" + sfx] = dict(domain=[0, 1], anchor="y" + sfx, range=[START, END], type="date",
                               tickvals=DATE_TICKS, showticklabels=(i == 4), tickformat="%Y-%m",
                               tickangle=-45, tickfont=dict(family=FONT, size=11, color=INK),
                               ticklabelshift=17, ticklabelstandoff=-3, ticklabeloverflow="allow",
                               automargin=False, showgrid=True,
                               gridcolor=GRID, gridwidth=1, showline=True, mirror=True,
                               linecolor=GRID, linewidth=1, zeroline=False, ticks="")
    axes["yaxis" + sfx] = dict(domain=[py(bot), py(top)], anchor="x" + sfx, showgrid=True,
                               gridcolor=GRID, gridwidth=1, showline=True, mirror=True,
                               linecolor=GRID, linewidth=1, zeroline=False, ticks="",
                               automargin=False, tickfont=tick_font, ticklabelstandoff=4, **ys)

fig.update_layout(width=W, height=H, margin=dict(l=ML, r=MR, t=MT, b=MB, autoexpand=False),
                  paper_bgcolor="white", plot_bgcolor="white",
                  font=dict(family=FONT, color=INK), showlegend=False, **axes)

# ---------------------------------------------------------------------------
# Titles, axis labels and scale factors


def text(s, x, y, size, angle=0, xanchor="center"):
    fig.add_annotation(text=s, xref="paper", yref="paper", x=px(x), y=py(y),
                       xanchor=xanchor, yanchor="middle", showarrow=False, textangle=angle,
                       font=dict(family=FONT, size=size, color=INK))


text("Amplero Qle", 558, 15, 15)
text("Amplero Qh", 558, 355, 15)
text("Amplero soil moisture", 558, 694, 15)
text("Amplero LAI", 558, 1033, 15)

text("Latent heat flux (<i>W/m\u00b2</i>)", 18, 177, 11, angle=-90)
text("Sensible heat flux\u00a0 (<i>W/m\u00b2</i>)", 16, 515, 11, angle=-90)
text("Soil Moisture (<i>m\u00b3/m\u00b3</i>)", 25, 852, 11, angle=-90)
text("Leaf Area Index", 24, 1191, 15.5, angle=-90)

text("1 x 10\u00b2", 65, 22, 11, xanchor="left")
text("1 x 10\u00b2", 65, 362, 11, xanchor="left")
text("1e\u22121", 65, 700, 11, xanchor="left")

# ---------------------------------------------------------------------------
# Legends


def legend(box, first_y, entries):
    x0, y0, x1, y1 = box
    fig.add_shape(type="rect", xref="paper", yref="paper", x0=px(x0), x1=px(x1),
                  y0=py(y1), y1=py(y0), line=dict(color=GRID, width=1),
                  fillcolor="rgba(255,255,255,0.8)", layer="above")
    for k, (label, color, width, dash) in enumerate(entries):
        yc = first_y + 14.05 * k
        fig.add_shape(type="line", xref="paper", yref="paper", x0=px(73.5), x1=px(92),
                      y0=py(yc), y1=py(yc), line=dict(color=color, width=width, dash=dash),
                      layer="above")
        fig.add_annotation(text=label, xref="paper", yref="paper", x=px(99), y=py(yc),
                           xanchor="left", yanchor="middle", showarrow=False,
                           font=dict(family=FONT, size=9.5, color=INK))


flux_entries = [("OBS", "#808080", 4, None), ("CTR", "black", 1.6, None),
                ("MLAI", "blue", 1.6, None), ("MLAI_RSMIN", "red", 1.6, None),
                ("MLAI_ROOT", "green", 1.6, None)]
legend((69.5, 36.7, 165.5, 124), 44.3, flux_entries + [("MLAI_NOSMS", "blue", 1.6, "7px,13px")])
legend((69.5, 375.7, 161.5, 449.3), 383.3, flux_entries)
legend((69.5, 715, 240, 774), 722.7,
       [("Soil Moisture CTR first layers", "black", 4, None),
        ("Soil Moisture CTR last layer", "black", 1.6, "8px,18px"),
        ("Wilting point", "#b3a6e6", 1.4, None),
        ("Field capacity", "#f2a0a0", 1.4, None)])
legend((69.5, 1054.3, 192.5, 1126.7), 1061.7,
       [(name, color, width, dash) for _, color, width, dash, name in lai_specs])

fig.write_html("out.html", config={"displayModeBar": False})
